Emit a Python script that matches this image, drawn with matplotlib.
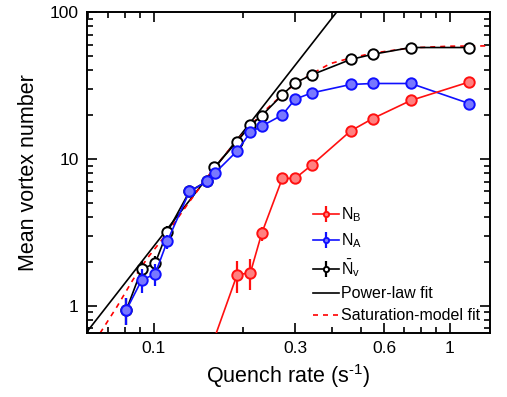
import matplotlib
matplotlib.use("Agg")
import matplotlib.pyplot as plt
from matplotlib.ticker import FixedLocator, NullFormatter, LogLocator

plt.rcParams['font.family'] = ['Liberation Sans', 'DejaVu Sans']
plt.rcParams['mathtext.fontset'] = 'custom'
plt.rcParams['mathtext.rm'] = 'Liberation Sans'
plt.rcParams['mathtext.it'] = 'Liberation Sans:italic'
plt.rcParams['mathtext.bf'] = 'Liberation Sans:bold'
plt.rcParams['axes.unicode_minus'] = False

# N_v (total)
rate_v = [0.0808, 0.0911, 0.101, 0.111, 0.132, 0.151, 0.160, 0.191, 0.212, 0.2314,
          0.2716, 0.300, 0.341, 0.462, 0.548, 0.738, 1.162]
n_v = [0.935, 1.78, 1.94, 3.17, 6.0, 7.02, 8.74, 13.1, 16.9, 19.7,
       27.3, 32.9, 37.3, 47.5, 51.5, 57.3, 57.3]
err_v = [0.2, 0.25, 0.25, 0.3, 0.3, 0.3, 0.3, 0.3, 0.3, 0.3,
         0.3, 0.3, 0.3, 0.3, 0.3, 0.3, 0.3]

# N_A
rate_a = [0.0808, 0.0911, 0.101, 0.111, 0.132, 0.151, 0.161, 0.191, 0.212, 0.2314,
          0.2716, 0.300, 0.341, 0.462, 0.548, 0.738, 1.162]
n_a = [0.935, 1.50, 1.64, 2.74, 6.0, 7.02, 8.03, 11.3, 15.2, 16.7,
       19.9, 25.5, 28.1, 32.1, 32.6, 32.6, 23.8]
err_a = [0.2, 0.27, 0.27, 0.3, 0.3, 0.3, 0.3, 0.3, 0.3, 0.3,
         0.3, 0.3, 0.3, 0.3, 0.3, 0.3, 0.3]

# N_B
rate_b = [0.151, 0.191, 0.212, 0.2314, 0.2716, 0.300, 0.341, 0.462, 0.548, 0.738, 1.162]
n_b = [0.43, 1.62, 1.68, 3.11, 7.36, 7.36, 9.06, 15.5, 18.8, 25.0, 33.4]
err_b = [0.1, 0.4, 0.4, 0.33, 0.3, 0.3, 0.3, 0.3, 0.3, 0.3, 0.3]

# fit curves
power_x = [0.0595, 0.4145]
power_y = [0.665, 100]
sat_x = [0.0659, 0.075, 0.085, 0.095, 0.11, 0.13, 0.16, 0.19, 0.2314, 0.2437,
         0.27, 0.30, 0.35, 0.394, 0.46, 0.55, 0.74, 1.0, 1.37]
sat_y = [0.652, 0.98, 1.50, 2.10, 3.05, 4.9, 8.7, 13.2, 20.4, 22.4,
         27.0, 32.5, 39.0, 44.5, 48.5, 52.5, 57.0, 58.5, 58.8]

fig = plt.figure(figsize=(5.07, 3.97), dpi=100)
ax = fig.add_axes([87 / 507, 64 / 397, 403 / 507, 321 / 397])

lw = 1.2
ax.plot(power_x, power_y, color='black', lw=lw, label='Power-law fit', zorder=2)
ax.plot(sat_x, sat_y, color='red', lw=lw, ls=(0, (3, 3)), label='Saturation-model fit', zorder=2)

ax.errorbar(rate_v, n_v, yerr=err_v, color='black', lw=lw, elinewidth=1.6,
            marker='o', ms=7.5, mfc='white', mec='black', mew=1.4,
            label=r'$\bar{\mathregular{N}}_\mathregular{v}$', zorder=3)
ax.errorbar(rate_a, n_a, yerr=err_a, color='#1010ff', lw=lw, elinewidth=1.6,
            marker='o', ms=7.5, mfc='#7878ff', mec='#1010ff', mew=1.4,
            label=r'$\mathregular{N_A}$', zorder=4)
ax.errorbar(rate_b, n_b, yerr=err_b, color='#ff1010', lw=lw, elinewidth=1.6,
            marker='o', ms=7.5, mfc='#ff8080', mec='#ff1010', mew=1.4,
            label=r'$\mathregular{N_B}$', zorder=5)

ax.set_xscale('log')
ax.set_yscale('log')
ax.set_xlim(0.0595, 1.365)
ax.set_ylim(0.652, 100)

ax.xaxis.set_major_locator(FixedLocator([0.1, 0.3, 0.6, 1]))
ax.xaxis.set_minor_locator(FixedLocator([0.06, 0.07, 0.08, 0.09, 0.2, 0.4, 0.5, 0.7, 0.8, 0.9]))
ax.set_xticklabels(['0.1', '0.3', '0.6', '1'])
ax.xaxis.set_minor_formatter(NullFormatter())
ax.yaxis.set_major_locator(FixedLocator([1, 10, 100]))
ax.yaxis.set_minor_locator(LogLocator(base=10, subs=[2, 3, 4, 5, 6, 7, 8, 9]))
ax.set_yticklabels(['1', '10', '100'])
ax.yaxis.set_minor_formatter(NullFormatter())

ax.tick_params(which='both', direction='in', top=True, right=True, width=1.2,
               labelsize=12.5, pad=6)
ax.tick_params(which='major', length=7)
ax.tick_params(which='minor', length=4)
for s in ax.spines.values():
    s.set_linewidth(1.4)

ax.set_xlabel(r'Quench rate (s$^{\text{-1}}$)', fontsize=15.5, labelpad=4)
ax.set_ylabel('Mean vortex number', fontsize=15.5, labelpad=8)

h, l = ax.get_legend_handles_labels()
order = [4, 3, 2, 0, 1]
ax.legend([h[i] for i in order], [l[i] for i in order], loc='lower right',
          bbox_to_anchor=(1.0, 0.0), frameon=False, fontsize=11.5,
          handlelength=1.6, handletextpad=0.15, markerscale=0.5,
          labelspacing=0.45, borderaxespad=0.2)

fig.savefig('out.png', dpi=100)
